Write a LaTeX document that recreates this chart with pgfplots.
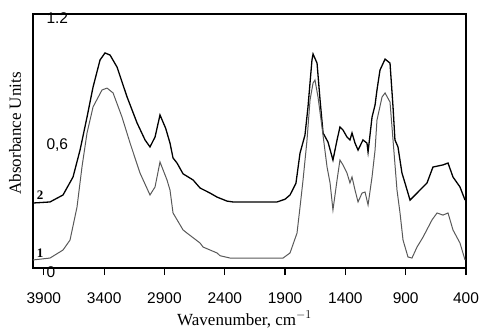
\documentclass[border=0pt]{standalone}
\usepackage{fontspec}
\setmainfont{Liberation Serif}
\newfontfamily\arialf{Liberation Sans}
\usepackage{pgfplots}
\pgfplotsset{compat=1.18}
\begin{document}
\begin{tikzpicture}[x=1pt,y=1pt]
\useasboundingbox (0,0) rectangle (483,333);
\begin{axis}[
  at={(33pt,65pt)}, anchor=south west,
  width=433pt, height=254pt, scale only axis,
  x dir=reverse, xmin=400, xmax=3990, ymin=0, ymax=1.2,
  xtick={400,900,...,3900},
  ytick={0,0.6,1.2}, yticklabels={0,{0,6},1.2},
  xtick pos=bottom, ytick pos=left,
  /pgf/number format/1000 sep={},
  tick align=outside,
  major tick length=7pt,
  x tick style={black, line width=1.3pt},
  y tick style={draw=none},
  xticklabel style={font=\arialf\fontsize{15.5}{16}\selectfont, yshift=-14pt},
  yticklabel style={font=\arialf\fontsize{15.5}{16}\selectfont, anchor=west, xshift=17pt, yshift=-4pt},
  /pgf/number format/assume math mode=true,
  xlabel={Wavenumber, cm$^{-1}$}, ylabel={Absorbance Units},
  label style={font=\fontsize{17}{18}\selectfont},
  xlabel style={at={(axis description cs:0.5,0)}, anchor=base, yshift=-57pt, xshift=-5pt},
  ylabel style={at={(axis description cs:0,0.53)}, anchor=center, yshift=18pt},
  axis line style={black, line width=1.2pt},
  clip=false,
]
% curve 2 (upper)
\addplot[black, line width=1.3pt] coordinates {
(3990,0.307)(3849,0.312)(3741,0.345)(3658,0.430)(3600,0.557)(3542,0.713)(3492,0.855)
(3434,0.983)(3393,1.016)(3351,1.006)(3293,0.949)(3210,0.808)(3127,0.685)(3061,0.605)
(3020,0.572)(2978,0.619)(2937,0.723)(2890,0.660)(2854,0.590)(2829,0.520)(2796,0.496)
(2746,0.445)(2663,0.416)(2605,0.378)(2522,0.354)(2464,0.335)(2381,0.316)(2332,0.312)
(1967,0.312)(1900,0.325)(1859,0.345)(1810,0.400)(1776,0.543)(1735,0.628)(1710,0.761)(1677,0.983)
(1668,1.011)(1635,0.968)(1610,0.794)(1585,0.638)(1544,0.595)(1503,0.510)(1469,0.605)
(1445,0.666)(1420,0.652)(1387,0.619)(1362,0.605)(1345,0.638)(1320,0.590)(1295,0.557)
(1254,0.605)(1221,0.590)(1212,0.548)(1179,0.713)(1154,0.770)(1138,0.841)(1113,0.935)
(1071,0.987)(1030,0.968)(1005,0.761)(989,0.605)(964,0.572)(931,0.449)(906,0.402)
(864,0.321)(806,0.354)(723,0.402)(674,0.477)(591,0.487)(549,0.496)(508,0.430)
(450,0.383)(408,0.321)
};
% curve 1 (lower)
\addplot[black!65, line width=1.0pt] coordinates {
(3990,0.038)(3849,0.047)(3741,0.085)(3683,0.132)(3625,0.288)(3584,0.477)(3542,0.638)
(3492,0.761)(3418,0.841)(3376,0.850)(3326,0.827)(3252,0.713)(3185,0.590)(3103,0.449)
(3020,0.345)(2978,0.383)(2937,0.501)(2879,0.416)(2854,0.368)(2829,0.260)(2746,0.180)
(2713,0.165)(2605,0.118)(2580,0.099)(2464,0.071)(2439,0.058)(2356,0.047)(1917,0.047)
(1859,0.071)(1801,0.165)(1776,0.288)(1751,0.416)(1718,0.605)(1693,0.794)(1668,0.874)
(1652,0.888)(1627,0.808)(1594,0.666)(1552,0.477)(1527,0.402)(1503,0.274)(1469,0.416)
(1445,0.510)(1420,0.487)(1387,0.449)(1362,0.402)(1345,0.430)(1320,0.368)(1295,0.312)
(1262,0.354)(1237,0.359)(1212,0.298)(1179,0.430)(1154,0.557)(1138,0.699)(1096,0.808)
(1071,0.827)(1030,0.784)(1005,0.605)(972,0.368)(947,0.260)(922,0.132)(881,0.052)
(848,0.047)(806,0.099)(756,0.146)(682,0.227)(640,0.260)(591,0.250)(549,0.260)
(508,0.180)(450,0.118)(408,0.038)
};
\node[font=\bfseries\fontsize{13}{13}\selectfont] at (axis cs:3930,0.345) {2};
\node[font=\bfseries\fontsize{13}{13}\selectfont] at (axis cs:3930,0.071) {1};
\end{axis}
\end{tikzpicture}
\end{document}
